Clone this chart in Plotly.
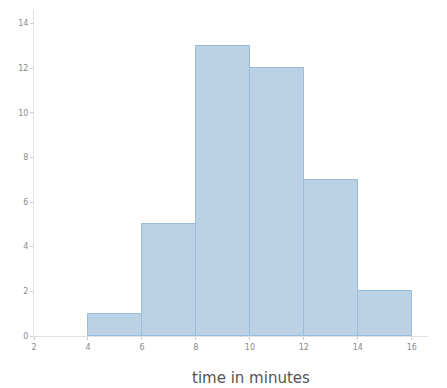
import plotly.graph_objects as go

bin_starts = [4, 6, 8, 10, 12, 14]
bin_width = 2
counts = [1, 5, 13, 12, 7, 2]
x_ticks = [2, 4, 6, 8, 10, 12, 14, 16]
y_ticks = [0, 2, 4, 6, 8, 10, 12, 14]
x_title = "time in minutes"

fig = go.Figure()
fig.add_trace(go.Bar(
    x=[s + bin_width / 2 for s in bin_starts],
    y=counts,
    width=bin_width,
    marker=dict(color="#bbd2e4", line=dict(color="#98bcdc", width=1)),
))

axis_common = dict(
    showgrid=False, zeroline=False, showline=True, linecolor="#e2e2e2", linewidth=1,
    ticks="outside", ticklen=3, tickcolor="#cccccc", automargin=False,
    tickfont=dict(family="DejaVu Sans", size=8, color="#8a8a8a"),
)
fig.update_layout(
    width=439, height=380,
    margin=dict(l=26, r=19, t=2, b=52),
    paper_bgcolor="white", plot_bgcolor="white",
    showlegend=False, bargap=0,
    xaxis=dict(range=[2, 16.6], tickvals=x_ticks, **axis_common),
    yaxis=dict(range=[0, 14.6], tickvals=y_ticks, **axis_common),
    annotations=[dict(text=x_title, xref="paper", yref="paper", x=0.551, y=-0.13,
                      xanchor="center", yanchor="middle", showarrow=False,
                      font=dict(family="DejaVu Sans", size=15, color="#555555"))],
)
fig.write_html("out.html")
